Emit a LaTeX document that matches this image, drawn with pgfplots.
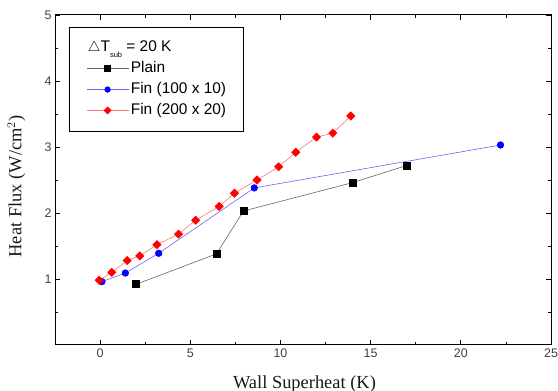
\documentclass[border=0pt]{standalone}
\usepackage{pgfplots}
\pgfplotsset{compat=1.18}
\usepackage{fontspec}
\setmainfont{Liberation Serif}
\setsansfont{Liberation Sans}
\usetikzlibrary{calc}
\pgfplotsset{mylegend/.style={legend image code/.code={\draw[mark repeat=2,mark phase=2, every mark/.append style={scale=0.85}] plot coordinates {(0bp,0bp) (21bp,0bp) (42bp,0bp)};}}}
\begin{document}
\begin{tikzpicture}
\begin{axis}[
  scale only axis, width=496bp, height=330bp,
  xmin=-2.5, xmax=25, ymin=0, ymax=5,
  xtick={0,5,10,15,20,25}, ytick={1,2,3,4,5},
  minor xtick={-2.5,2.5,7.5,12.5,17.5,22.5},
  minor ytick={0.5,1.5,2.5,3.5,4.5},
  tick align=inside, major tick length=5bp, minor tick length=3bp,
  every tick/.style={black, line width=0.8pt},
  axis line style={line width=1pt},
  /pgf/number format/assume math mode=true,
  ticklabel style={font=\sffamily\fontsize{12.5}{14}\selectfont, text=black!75},
  xlabel={Wall Superheat (K)},
  ylabel={Heat Flux (W/cm$^2$)},
  label style={font=\fontsize{18.5}{21}\selectfont, text=black!90},
  xlabel style={at={(axis description cs:0.503,-0.117)}, anchor=center},
  ylabel style={at={(axis description cs:-0.078,0.48)}, anchor=center},
  legend cell align=left,
  legend style={at={(axis description cs:0.028,0.964)}, anchor=north west,
    font=\sffamily\fontsize{15.5}{18}\selectfont, draw=black, line width=0.8pt,
    nodes={inner sep=0pt, text height=11.5bp, text depth=3.5bp},
    inner xsep=17bp, inner ysep=13bp, row sep=5.9bp, column sep=2bp},
]
\addlegendimage{empty legend}
\addlegendentry{\hspace*{-43bp}$\triangle$T\raisebox{-0.7ex}{\fontsize{7.5}{7.5}\selectfont sub} = 20 K}
\addplot[mylegend, color=black!60, line width=0.6pt, mark=square*, mark size=3.5bp, mark options={solid, draw=black, fill=black}]
coordinates {(2.0,0.92) (6.45,1.38) (7.95,2.03) (14.0,2.46) (17.0,2.72)};
\addlegendentry{Plain}
\addplot[mylegend, color=blue!60, line width=0.6pt, mark=*, mark size=3.3bp, mark options={solid, draw=blue, fill=blue}]
coordinates {(0.1,0.96) (1.4,1.09) (3.25,1.39) (8.55,2.38) (22.2,3.03)};
\addlegendentry{Fin (100 x 10)}
\addplot[mylegend, color=red!55, line width=0.6pt, mark=square*, mark size=2.9bp, mark options={solid, draw=red, fill=red, rotate=45}]
coordinates {(-0.05,0.98) (0.65,1.10) (1.5,1.28) (2.2,1.35) (3.15,1.52) (4.35,1.68) (5.3,1.89) (6.6,2.10) (7.45,2.30) (8.7,2.50) (9.9,2.70) (10.85,2.92) (12.0,3.15) (12.9,3.21) (13.9,3.47)};
\addlegendentry{Fin (200 x 20)}
\end{axis}
\pgfresetboundingbox
\path ($(current axis.south west)+(-55bp,-46bp)$) rectangle ($(current axis.north east)+(7bp,15bp)$);
\end{tikzpicture}
\end{document}
